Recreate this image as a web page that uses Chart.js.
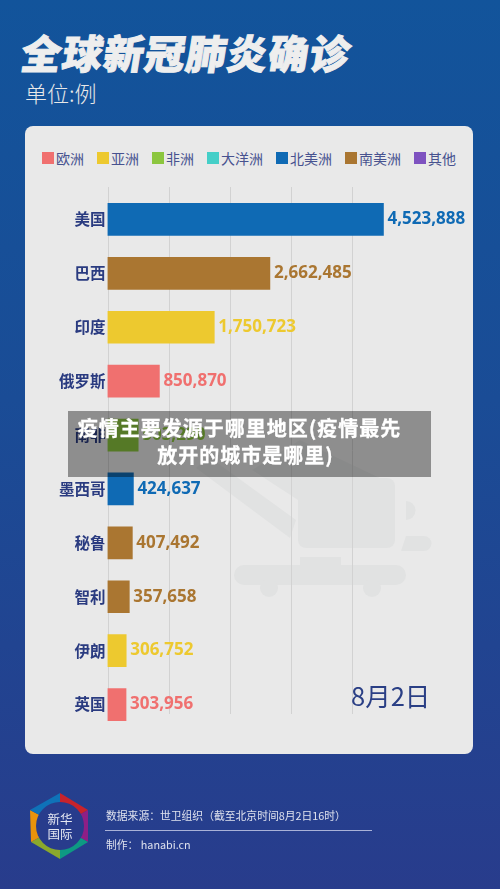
<!DOCTYPE html>
<html lang="zh">
<head>
<meta charset="utf-8">
<title>全球新冠肺炎确诊</title>
<script src="https://cdn.jsdelivr.net/npm/chart.js@4"></script>
<style>
    html, body { margin: 0; padding: 0; }
    body {
        position: relative; width: 500px; height: 889px; overflow: hidden;
        background: linear-gradient(180deg, #12549b 0%, #1a4c96 45%, #283c8c 100%);
        font-family: "Noto Sans CJK SC", sans-serif;
    }
    body > * { position: absolute; }
    #title {
        left: 22px; top: 25px; font-size: 40px; line-height: 54px; font-weight: 900;
        letter-spacing: 1.2px; color: #eeeeee; transform: skewX(-9deg); white-space: nowrap;
        -webkit-text-stroke: 1px #eeeeee;
    }
    #unit { left: 25px; top: 75px; font-size: 22px; line-height: 34px; font-weight: 300; color: #e8e8e8; }
    #card { left: 25px; top: 126px; width: 448px; height: 628px; background: #e9e9e9; border-radius: 8px; }
    #watermark { left: 0; top: 0; }
    #legend {
        left: 42px; top: 148px; display: flex; gap: 13px; white-space: nowrap;
        font-size: 14px; line-height: 20px; color: #47528f;
    }
    #legend span { display: flex; align-items: center; gap: 2px; }
    #legend i { display: block; width: 12px; height: 12px; }
    #chart { left: 0; top: 0; }
    #date { left: 351px; top: 676px; font-size: 25.5px; line-height: 38px; color: #2a3f85; }
    #logo { left: 0; top: 0; }
    #logotext { left: 46px; top: 812px; width: 28px; font-size: 12.5px; line-height: 14.5px; color: #e6e8f2; text-align: center; }
    .foot { left: 106px; font-size: 10.8px; line-height: 16px; color: #dfe2ee; white-space: nowrap; }
    #rule { left: 105px; top: 830px; width: 267px; height: 1px; background: #a9b2d8; }
    #banner {
        left: 68px; top: 411px; width: 363px; height: 66px; background: rgba(0, 0, 0, 0.39);
        color: #fff; font-size: 20px; line-height: 27px; font-weight: 700; letter-spacing: 1px;
        text-align: center; box-sizing: border-box; padding: 3px 20px 0 0; white-space: nowrap;
        -webkit-text-stroke: 0.3px #fff;
    }
    #banner span { position: relative; left: 6px; }
</style>
</head>
<body>
<div id="title">全球新冠肺炎确诊</div>
<div id="unit">单位:例</div>
<div id="card"></div>
<svg id="watermark" width="500" height="889" fill="#e1e2e2">
    <path d="M196 468 L208 456 L296 520 L290 538 Z"/>
    <path d="M252 470 L300 440 L380 478 L330 478 L298 500 Z"/>
    <rect x="298" y="478" width="97" height="70" rx="8"/>
    <rect x="300" y="557" width="41" height="10"/>
    <rect x="234" y="565" width="172" height="20" rx="10"/>
    <circle cx="269" cy="588" r="9"/>
    <circle cx="372" cy="588" r="9"/>
    <path d="M406 501 a9 9 0 0 1 0 19 Z"/>
    <path d="M406 536 H424 a7.5 7.5 0 0 1 0 15 H401 Z"/>
</svg>
<div id="legend"></div>
<canvas id="chart" width="500" height="889"></canvas>
<div id="date">8月2日</div>
<svg id="logo" width="500" height="889">
    <polygon points="60,826 60,793 88,810" fill="#c8232c"/>
    <polygon points="60,826 88,810 88,842" fill="#8e1f86"/>
    <polygon points="60,826 88,842 60,859" fill="#0e9a83"/>
    <polygon points="60,826 60,859 31,842" fill="#8aa82c"/>
    <polygon points="60,826 31,842 30,810" fill="#e8930c"/>
    <polygon points="60,826 30,810 60,793" fill="#0f72b8"/>
    <circle cx="60" cy="826" r="24" fill="#283c8c"/>
</svg>
<div id="logotext">新华<br>国际</div>
<div class="foot" style="top:807px">数据来源：世卫组织（截至北京时间8月2日16时）</div>
<div id="rule"></div>
<div class="foot" style="top:836px">制作： hanabi.cn</div>
<div id="banner">疫情主要发源于哪里地区(疫情最先<br><span>放开的城市是哪里)</span></div>

<script>
const regions = ['欧洲', '亚洲', '非洲', '大洋洲', '北美洲', '南美洲', '其他'];
const regionColors = ['#f0706f', '#edc92f', '#8cc63f', '#45cfc8', '#0f6ab4', '#aa7631', '#7e52c0'];

const countries = ['美国', '巴西', '印度', '俄罗斯', '南非', '墨西哥', '秘鲁', '智利', '伊朗', '英国'];
const cases = [4523888, 2662485, 1750723, 850870, 503290, 424637, 407492, 357658, 306752, 303956];
const countryRegion = ['北美洲', '南美洲', '亚洲', '欧洲', '非洲', '北美洲', '南美洲', '南美洲', '亚洲', '欧洲'];

const colorOf = i => regionColors[regions.indexOf(countryRegion[i])];

// legend is plain html, the spacing in the original is not what Chart.js gives
document.getElementById('legend').innerHTML = regions
    .map((r, i) => `<span><i style="background:${regionColors[i]}"></i>${r}</span>`)
    .join('');

// gridlines stop at 4M and run higher than the bars, so draw them here
const shortGrid = {
    id: 'shortGrid',
    beforeDatasetsDraw(chart) {
        const { ctx, scales: { x } } = chart;
        ctx.save();
        ctx.strokeStyle = '#d2d2d2';
        ctx.lineWidth = 1;
        x.ticks.filter(t => t.value <= 4000000).forEach(t => {
            const px = Math.round(x.getPixelForValue(t.value)) + 0.5;
            ctx.beginPath();
            ctx.moveTo(px, 187);
            ctx.lineTo(px, 714);
            ctx.stroke();
        });
        ctx.restore();
    }
};

const valueLabels = {
    id: 'valueLabels',
    afterDatasetsDraw(chart) {
        const { ctx } = chart;
        ctx.save();
        ctx.font = 'bold 17px "Open Sans"';
        ctx.textBaseline = 'middle';
        chart.getDatasetMeta(0).data.forEach((bar, i) => {
            ctx.fillStyle = colorOf(i);
            ctx.fillText(cases[i].toLocaleString('en-US'), bar.x + 4, bar.y);
        });
        ctx.restore();
    }
};

new Chart(document.getElementById('chart'), {
    type: 'bar',
    data: {
        labels: countries,
        datasets: [{
            data: cases,
            backgroundColor: cases.map((_, i) => colorOf(i)),
            barThickness: 32
        }]
    },
    options: {
        indexAxis: 'y',
        responsive: false,
        animation: false,
        devicePixelRatio: 1,
        layout: { padding: { top: 192.5, bottom: 157.5, right: 26.5 } },
        plugins: { legend: { display: false }, tooltip: { enabled: false } },
        scales: {
            x: {
                min: 0,
                max: 6000000,
                display: false,
                ticks: { stepSize: 1000000 }
            },
            y: {
                afterFit(scale) { scale.width = 107.5; },
                border: { display: false },
                grid: { display: false, drawTicks: false },
                ticks: {
                    color: '#2a3b80',
                    padding: 2,
                    font: { family: '"Noto Sans CJK SC"', weight: 'bold', size: 15.5 }
                }
            }
        }
    },
    plugins: [shortGrid, valueLabels]
});
</script>
</body>
</html>
